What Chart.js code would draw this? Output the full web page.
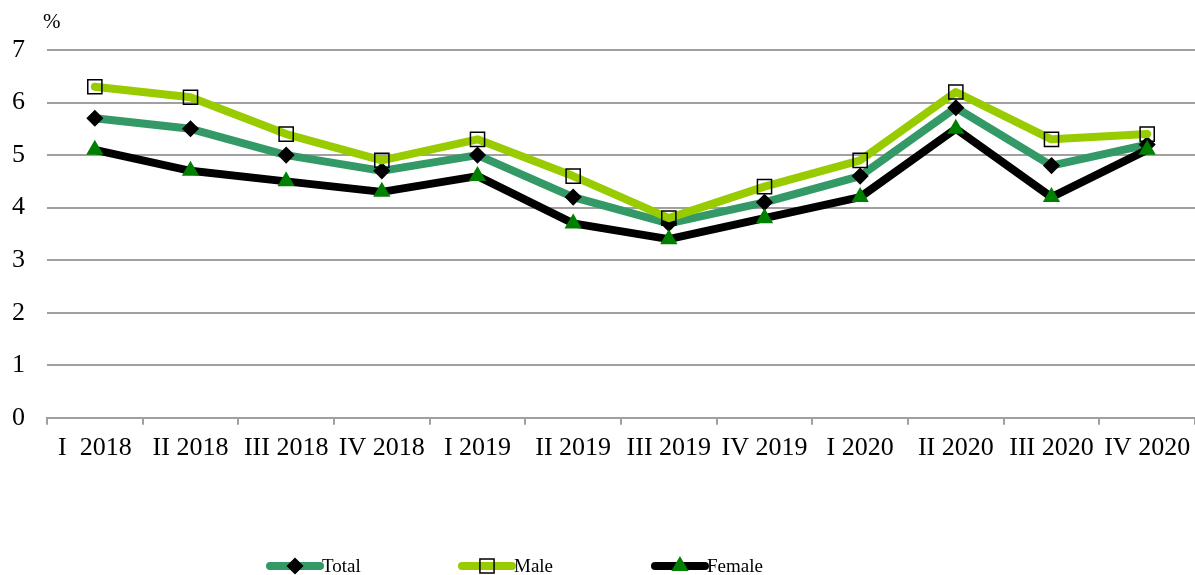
<!DOCTYPE html>
<html>
<head>
<meta charset="utf-8">
<script src="https://cdn.jsdelivr.net/npm/chart.js@4/dist/chart.umd.min.js"></script>
<style>
  html, body { margin: 0; padding: 0; background: #fff; overflow: hidden; }
  canvas { display: block; }
</style>
</head>
<body>
<canvas id="chart" width="1195" height="575"></canvas>
<script>
const quarters = ["I  2018", "II 2018", "III 2018", "IV 2018", "I 2019", "II 2019",
  "III 2019", "IV 2019", "I 2020", "II 2020", "III 2020", "IV 2020"];
const totalValues = [5.7, 5.5, 5.0, 4.7, 5.0, 4.2, 3.7, 4.1, 4.6, 5.9, 4.8, 5.2];
const maleValues = [6.3, 6.1, 5.4, 4.9, 5.3, 4.6, 3.8, 4.4, 4.9, 6.2, 5.3, 5.4];
const femaleValues = [5.1, 4.7, 4.5, 4.3, 4.6, 3.7, 3.4, 3.8, 4.2, 5.5, 4.2, 5.1];
const yTicks = [0, 1, 2, 3, 4, 5, 6, 7];

const FONT = "'Liberation Serif', 'Times New Roman', serif";
const GRID = "#a0a0a0";

// legend drawn by hand: thick line sample with the marker in the middle
const bottomLegend = {
  id: "bottomLegend",
  afterDraw(chart) {
    const ctx = chart.ctx;
    const starts = [270, 462, 655];
    const y = 566;
    ctx.save();
    chart.data.datasets.forEach((d, i) => {
      const x0 = starts[i], x1 = x0 + 50;
      ctx.strokeStyle = d.borderColor;
      ctx.lineWidth = d.borderWidth;
      ctx.lineCap = "round";
      ctx.beginPath();
      ctx.moveTo(x0, y);
      ctx.lineTo(x1, y);
      ctx.stroke();
      // drawPoint uses whatever colours are on the context
      ctx.fillStyle = d.pointBackgroundColor;
      ctx.strokeStyle = d.pointBorderColor;
      ctx.lineWidth = d.pointBorderWidth;
      Chart.helpers.drawPoint(ctx, {
        pointStyle: d.pointStyle,
        radius: d.pointRadius,
        borderWidth: d.pointBorderWidth,
        rotation: 0
      }, (x0 + x1) / 2, y);
      ctx.fillStyle = "#000";
      ctx.font = "19px " + FONT;
      ctx.textBaseline = "middle";
      ctx.textAlign = "left";
      ctx.fillText(d.label, x1 + 2, y + 1);
    });
    ctx.restore();
  }
};

const unitLabel = {
  id: "unitLabel",
  afterDraw(chart) {
    const ctx = chart.ctx;
    ctx.save();
    ctx.fillStyle = "#000";
    ctx.font = "21px " + FONT;
    ctx.textBaseline = "middle";
    ctx.textAlign = "left";
    ctx.fillText("%", 43, 22);
    ctx.restore();
  }
};

function series(label, data, color, style, radius, fill, stroke, order) {
  return {
    label: label,
    data: data,
    borderColor: color,
    backgroundColor: color,
    borderWidth: 8,
    borderCapStyle: "round",
    borderJoinStyle: "round",
    pointStyle: style,
    pointRadius: radius,
    pointHoverRadius: radius,
    pointBackgroundColor: fill,
    pointBorderColor: stroke,
    pointBorderWidth: 1.5,
    tension: 0,
    order: order
  };
}

const datasets = [
  series("Total", totalValues, "#339966", "rectRot", 7.5, "#000", "#000", 3),
  series("Male", maleValues, "#99cc00", "rect", 10, "rgba(0,0,0,0)", "#000", 2),
  series("Female", femaleValues, "#000000", "triangle", 8.5, "#008000", "#008000", 1)
];

new Chart(document.getElementById("chart"), {
  type: "line",
  data: { labels: quarters, datasets: datasets },
  options: {
    responsive: false,
    animation: false,
    layout: { autoPadding: false, padding: { top: 50, right: 0, bottom: 103, left: 0 } },
    plugins: {
      legend: { display: false },
      tooltip: { enabled: false }
    },
    scales: {
      x: {
        offset: true,
        afterFit(scale) {
          scale.paddingLeft = 0;
          scale.paddingRight = 0;
        },
        grid: {
          offset: true,
          drawOnChartArea: false,
          drawTicks: true,
          tickLength: 7,
          color: GRID,
          lineWidth: 2
        },
        border: { display: true, color: GRID, width: 2 },
        ticks: {
          color: "#000",
          font: { family: FONT, size: 26 },
          padding: 8,
          maxRotation: 0,
          autoSkip: false
        }
      },
      y: {
        min: 0,
        max: 7,
        afterBuildTicks(scale) {
          scale.ticks = yTicks.map(v => ({ value: v }));
        },
        afterFit(scale) { scale.width = 47; },
        grid: { color: GRID, lineWidth: 2, drawTicks: false },
        border: { display: false },
        ticks: {
          color: "#000",
          font: { family: FONT, size: 26 },
          padding: 22
        }
      }
    }
  },
  plugins: [bottomLegend, unitLabel]
});
</script>
</body>
</html>
